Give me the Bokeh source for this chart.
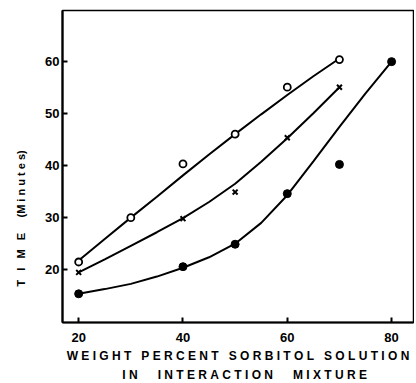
from bokeh.plotting import figure
from bokeh.models import Range1d, FixedTicker, Title
from bokeh.embed import file_html
from bokeh.resources import INLINE

# ---- data ----
open_x = [20, 30, 40, 50, 60, 70]
open_y = [21.5, 30, 40.3, 46, 55, 60.3]

cross_x = [20, 40, 50, 60, 70]
cross_y = [19.5, 29.8, 34.9, 45.3, 55]

filled_x = [20, 40, 50, 60, 70, 80]
filled_y = [15.4, 20.6, 24.9, 34.6, 40.2, 59.9]

# smooth fitted curves
curve_open_x = [20, 25, 30, 35, 40, 45, 50, 55, 60, 65, 70]
curve_open_y = [21.8, 25.9, 30, 34, 38.1, 42.1, 46, 49.8, 53.5, 57.1, 60.5]

curve_cross_x = [20, 25, 30, 35, 40, 45, 50, 55, 60, 65, 70]
curve_cross_y = [19.5, 22, 24.6, 27.2, 29.9, 33, 36.5, 40.7, 45.2, 50, 55]

curve_filled_x = [20, 25, 30, 35, 40, 45, 50, 55, 60, 65, 70, 75, 80]
curve_filled_y = [15.4, 16.3, 17.3, 18.7, 20.4, 22.4, 25, 29, 34.3, 40.8, 47.4, 53.8, 59.9]

x_ticks = [20, 40, 60, 80]
y_ticks = [20, 30, 40, 50, 60]

FONT = "Liberation Sans"
nb = "\u00a0"

def spaced(words, gap=3, inner=1):
    return (nb * gap).join((nb * inner).join(list(w)) for w in words)

p = figure(width=414, height=381, output_backend="svg", toolbar_location=None,
           x_range=Range1d(16.9, 84.2), y_range=Range1d(9.9, 69.7),
           min_border_left=62, min_border_right=1, min_border_top=10, min_border_bottom=57)

p.background_fill_color = "white"
p.border_fill_color = "white"
p.outline_line_color = "black"
p.outline_line_width = 1.5
p.xgrid.visible = False
p.ygrid.visible = False

for ax in (p.xaxis[0], p.yaxis[0]):
    ax.axis_line_width = 2.2
    ax.axis_line_color = "black"
    ax.major_tick_in = 5
    ax.major_tick_out = 0
    ax.major_tick_line_width = 2
    ax.minor_tick_line_color = None
    ax.major_label_text_font = FONT
    ax.major_label_text_font_style = "bold"
    ax.major_label_text_font_size = "13px"
    ax.major_label_text_color = "black"

p.xaxis.ticker = FixedTicker(ticks=x_ticks)
p.yaxis.ticker = FixedTicker(ticks=y_ticks)
p.xaxis.major_label_standoff = 10
p.yaxis.major_label_standoff = 3

# y axis label, pushed toward the bottom with trailing spaces
p.yaxis.axis_label = (spaced(["TIME"], 1, 3) + nb * 5 + "(" + nb.join("Minutes") + ")"
                      + nb * 34)
p.yaxis.axis_label_text_font = FONT
p.yaxis.axis_label_text_font_style = "bold"
p.yaxis.axis_label_text_font_size = "11px"
p.yaxis.axis_label_text_color = "black"
p.yaxis.axis_label_standoff = 15

# curves
p.line(curve_open_x, curve_open_y, line_color="black", line_width=2)
p.line(curve_cross_x, curve_cross_y, line_color="black", line_width=2)
p.line(curve_filled_x, curve_filled_y, line_color="black", line_width=2)

# markers
p.scatter(open_x, open_y, marker="circle", size=7, fill_color="white",
          line_color="black", line_width=1.8)
p.scatter(cross_x, cross_y, marker="x", size=7, line_color="black", line_width=2)
p.scatter(filled_x, filled_y, marker="circle", size=8, fill_color="black",
          line_color="black")

t1 = Title(text=spaced(["WEIGHT", "PERCENT", "SORBITOL", "SOLUTION"], 3),
           align="center", text_font=FONT, text_font_style="bold",
           text_font_size="12px", text_color="black", standoff=5)
t2 = Title(text=nb * 4 + spaced(["IN", "INTERACTION", "MIXTURE"], 6),
           align="center", text_font=FONT, text_font_style="bold",
           text_font_size="12px", text_color="black", standoff=0)
p.add_layout(t1, "below")
p.add_layout(t2, "below")

open("out.html", "w").write(file_html(p, INLINE))
